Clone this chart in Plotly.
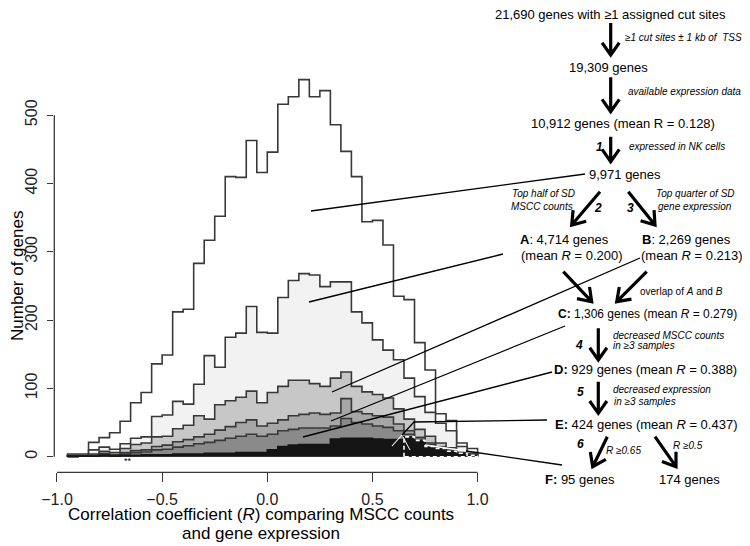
import math
import plotly.graph_objects as go

# The page body has an 8px margin, so the figure is drawn 8px in from the window corner.
OFF = 8
W, H = 750 - OFF, 546 - OFF

# ---------------- data ----------------
bin_edges = [-0.95, -0.90, -0.85, -0.80, -0.75, -0.70, -0.65, -0.60, -0.55, -0.50,
             -0.45, -0.40, -0.35, -0.30, -0.25, -0.20, -0.15, -0.10, -0.05, 0.00,
             0.05, 0.10, 0.15, 0.20, 0.25, 0.30, 0.35, 0.40, 0.45, 0.50,
             0.55, 0.60, 0.65, 0.70, 0.75, 0.80, 0.85, 0.90, 0.95, 1.00]

genes_all = [4, 4, 21, 28, 35, 52, 79, 94, 136, 149, 212, 216, 283, 317, 352, 410, 409, 463, 416, 446,
             516, 527, 552, 527, 536, 486, 447, 410, 344, 346, 310, 235, 230, 167, 127, 63, 53, 20, 12]
set_A = [2, 2, 10, 14, 11, 19, 27, 29, 59, 61, 81, 77, 106, 148, 131, 175, 181, 220, 182, 181,
         233, 258, 268, 266, 249, 256, 256, 212, 196, 171, 156, 142, 115, 88, 65, 49, 38, 15, 5]
set_B = [1, 1, 4, 8, 6, 12, 18, 20, 29, 30, 41, 46, 60, 55, 76, 82, 87, 96, 79, 94,
         103, 112, 112, 107, 103, 115, 124, 103, 95, 91, 86, 70, 55, 40, 30, 20, 13, 6, 2]
set_C = [0, 1, 2, 5, 3, 6, 9, 10, 15, 17, 22, 25, 29, 33, 39, 44, 50, 54, 45, 49,
         54, 60, 62, 64, 62, 64, 85, 66, 63, 60, 58, 48, 38, 28, 20, 14, 9, 5, 2]
set_D = [0, 1, 1, 3, 2, 4, 6, 7, 10, 11, 14, 16, 19, 21, 24, 27, 30, 33, 30, 33,
         38, 40, 42, 42, 42, 45, 56, 50, 48, 45, 43, 38, 33, 28, 18, 14, 10, 6, 2]
set_E = [1, 1, 1, 2, 1, 2, 2, 3, 3, 3, 4, 4, 4, 5, 5, 5, 6, 6, 6, 10,
         15, 17, 18, 18, 18, 26, 27, 27, 27, 26, 25, 25, 29, 24, 15, 12, 8, 5, 2]
f_threshold = 0.65

y_ticks = [0, 100, 200, 300, 400, 500]
x_ticks = [-1.0, -0.5, 0.0, 0.5, 1.0]
x_tick_text = ["\u22121.0", "\u22120.5", "0.0", "0.5", "1.0"]

FONT = "Liberation Sans, Arial, Helvetica, sans-serif"
OUTLINE = "#383838"


def px(x):
    return (x - OFF) / W


def py(y):
    return 1 - (y - OFF) / H


def step_xy(edges, counts):
    xs = [edges[0]] + edges[:-1] + [edges[-1]]
    ys = [0] + list(counts) + [0]
    return xs, ys


fig = go.Figure()

layers = [
    (genes_all, "rgba(255,255,255,0)", OUTLINE),
    (set_A, "#f2f2f2", OUTLINE),
    (set_B, "#c7c7c7", OUTLINE),
    (set_C, "#a6a6a6", OUTLINE),
    (set_D, "#8a8a8a", OUTLINE),
    (set_E, "#151515", "#151515"),
]
for counts, fillc, linec in layers:
    xs, ys = step_xy(bin_edges, counts)
    fig.add_trace(go.Scatter(x=xs, y=ys, mode="lines", line=dict(shape="hv", color=linec, width=1.6),
                             fill="tozeroy", fillcolor=fillc, hoverinfo="skip", showlegend=False))

# F: genes of E with R >= 0.65, outlined white dashed
k = bin_edges.index(f_threshold)
fx, fy = step_xy(bin_edges[k:], set_E[k:])
fx = fx + [fx[0]]
fy = fy + [0]
fig.add_trace(go.Scatter(x=fx, y=fy, mode="lines", line=dict(shape="hv", color="white", width=1.6, dash="4px,3px"),
                         hoverinfo="skip", showlegend=False))

# axes (R style)
x_lo, x_hi = -1.0128, 1.02
y_lo, y_hi = -22.8, 580.8
fig.update_layout(
    width=W, height=H, autosize=False,
    margin=dict(l=0, r=0, t=0, b=0, pad=0),
    paper_bgcolor="white", plot_bgcolor="white",
    font=dict(family=FONT, color="black"),
    xaxis=dict(range=[x_lo, x_hi], domain=[px(54.3), px(481.8)], showgrid=False, zeroline=False,
               showline=False, tickvals=x_ticks, ticktext=x_tick_text, ticks="outside", ticklen=9,
               tickwidth=1.3, tickcolor=OUTLINE, tickfont=dict(size=16, family=FONT, color="#222"),
               ticklabelstandoff=3, automargin=False, fixedrange=True),
    yaxis=dict(range=[y_lo, y_hi], domain=[py(472.3), py(60)], showgrid=False, zeroline=False,
               showline=False, tickvals=y_ticks, ticks="outside", ticklen=6, tickwidth=1.3,
               tickcolor=OUTLINE, tickangle=-90, tickfont=dict(size=16, family=FONT, color="#222"),
               ticklabelstandoff=4, automargin=False, fixedrange=True),
)

shapes = []
# axis lines
shapes.append(dict(type="line", xref="x", yref="paper", x0=x_ticks[0], x1=x_ticks[-1], y0=py(472.3), y1=py(472.3),
                   line=dict(color=OUTLINE, width=1.3)))
shapes.append(dict(type="line", xref="paper", yref="y", x0=px(54.3), x1=px(54.3), y0=y_ticks[0], y1=y_ticks[-1],
                   line=dict(color=OUTLINE, width=1.3)))


def seg(points, color="black", width=1.3):
    d = "M " + " L ".join(f"{px(x):.5f},{py(y):.5f}" for x, y in points)
    shapes.append(dict(type="path", xref="paper", yref="paper", path=d, line=dict(color=color, width=width)))


def arrow(x1, y1, x2, y2, head=15, ang=35):
    L = math.hypot(x2 - x1, y2 - y1)
    bx, by = -(x2 - x1) / L, -(y2 - y1) / L
    a = math.radians(ang)
    pts = []
    for s in (1, -1):
        c, si = math.cos(s * a), math.sin(s * a)
        pts.append((x2 + head * (bx * c - by * si), y2 + head * (bx * si + by * c)))
    d = (f"M {px(x1):.5f},{py(y1):.5f} L {px(x2):.5f},{py(y2):.5f} "
         f"M {px(pts[0][0]):.5f},{py(pts[0][1]):.5f} L {px(x2):.5f},{py(y2):.5f} L {px(pts[1][0]):.5f},{py(pts[1][1]):.5f}")
    shapes.append(dict(type="path", xref="paper", yref="paper", path=d, line=dict(color="black", width=3.2)))


# connector lines from labels to histogram layers
seg([(311, 211), (585, 174)])
seg([(309, 302), (503, 254)])
seg([(332, 392), (640, 258)])
seg([(331, 421), (565, 326)])
seg([(303, 437), (552, 372)])
seg([(547, 420), (414, 422), (402, 435)])
seg([(402, 435), (392, 446)], color="white", width=1.1)
seg([(403, 437), (410, 450)], color="white", width=1.0)
seg([(562, 465), (466, 451)])
seg([(466, 451), (425, 445)], color="white", width=1.3)

# flow arrows
arrow(610.7, 23, 610.7, 55)
arrow(610.7, 77.3, 610.7, 111.7)
arrow(610.7, 136.7, 610.7, 161.7)
arrow(600, 191.7, 571.7, 225)
arrow(628.3, 191.7, 655, 225)
arrow(563.3, 271.7, 591.7, 301.7)
arrow(646.7, 271.7, 616.7, 301.7)
arrow(598.3, 328.3, 598.3, 360)
arrow(598.3, 381.7, 598.3, 413.3)
arrow(607.3, 436.7, 592.7, 466.7)
arrow(655, 436.7, 676, 466.7)

fig.update_layout(shapes=shapes)

ann = []


def text(x, y, s, size=13, anchor="left", angle=0, color="black"):
    ann.append(dict(x=px(x), y=py(y), xref="paper", yref="paper", text=s, showarrow=False,
                    xanchor=anchor, yanchor="middle", textangle=angle,
                    font=dict(size=size, family=FONT, color=color), borderpad=0))


# axis titles
text(17, 276, "Number of genes", size=17, anchor="center", angle=-90)
text(261, 514, "Correlation coefficient (<i>R</i>) comparing MSCC counts", size=17, anchor="center")
text(261, 533, "and gene expression", size=17, anchor="center")
text(128, 461, "**", size=9, anchor="center")

# flow diagram
text(610, 14, "21,690 genes with \u22651 assigned cut sites", anchor="center")
text(624, 38, "<i>\u22651 cut sites \u00b1 1 kb of  TSS</i>", size=10)
text(608, 67.3, "19,309 genes", anchor="center")
text(627, 91.7, "<i>available expression data</i>", size=10)
text(623, 123.3, "10,912 genes (mean R = 0.128)", anchor="center")
text(599, 146.7, "<b><i>1</i></b>", size=12, anchor="center")
text(628, 146.7, "<i>expressed in NK cells</i>", size=10)
text(625, 175, "9,971 genes", anchor="center")
text(543.5, 193.3, "<i>Top half of SD</i>", size=10, anchor="center")
text(541.5, 206.7, "<i>MSCC counts</i>", size=10, anchor="center")
text(598.3, 208.3, "<b><i>2</i></b>", size=12, anchor="center")
text(630, 208.3, "<b><i>3</i></b>", size=12, anchor="center")
text(695, 193.3, "<i>Top quarter of SD</i>", size=10, anchor="center")
text(695, 206.7, "<i>gene expression</i>", size=10, anchor="center")
text(519, 239, "<b>A</b>: 4,714 genes")
text(520, 256, "(mean <i>R</i> = 0.200)")
text(640.7, 239, "<b>B</b>: 2,269 genes")
text(640, 256, "(mean <i>R</i> = 0.213)")
text(639, 291, "overlap of <i>A</i> and <i>B</i>", size=10)
text(556.7, 314.3, "<b>C:</b> 1,306 genes (mean <i>R</i> = 0.279)", size=12)
text(579.3, 345, "<b><i>4</i></b>", size=12, anchor="center")
text(611.7, 335, "<i>decreased MSCC counts</i>", size=10)
text(611.7, 345.7, "<i>in \u22653 samples</i>", size=10)
text(552.7, 370, "<b>D:</b> 929 genes (mean <i>R</i> = 0.388)")
text(580, 391.7, "<b><i>5</i></b>", size=12, anchor="center")
text(611.7, 389, "<i>decreased expression</i>", size=10)
text(613, 401.7, "<i>in \u22653 samples</i>", size=10)
text(554, 424.3, "<b>E:</b> 424 genes (mean <i>R</i> = 0.437)")
text(580, 444, "<b><i>6</i></b>", size=12, anchor="center")
text(605, 450.7, "<i>R</i> <i>\u22650.65</i>", size=10)
text(671.7, 445, "<i>R</i> <i>\u22650.5</i>", size=10)
text(544, 479.3, "<b>F:</b> 95 genes")
text(657.7, 479.3, "174 genes")

fig.update_layout(annotations=ann)

fig.write_html("out.html")
